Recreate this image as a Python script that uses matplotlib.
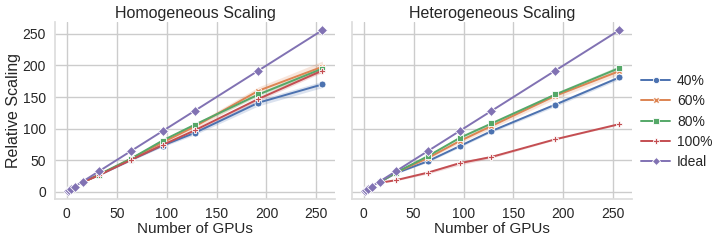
import matplotlib
matplotlib.use("Agg")
import matplotlib.pyplot as plt
import numpy as np
import seaborn as sns

sns.set_theme(style="whitegrid")
plt.rcParams['font.family'] = ['Liberation Sans', 'DejaVu Sans']

ideal_x = [1, 2, 4, 8, 16, 32, 64, 96, 128, 192, 256]
ideal_y = [1, 2, 4, 8, 16, 32, 64, 96, 128, 192, 256]

gpus = [16, 32, 64, 96, 128, 192, 256]
labels = ["40%", "60%", "80%", "100%"]

homo_mean = {
    "40%": [15, 26, 50, 73, 93, 141, 170],
    "60%": [15, 26, 52, 78, 103, 160, 198],
    "80%": [15, 27, 52, 81, 106, 154, 195],
    "100%": [15, 26, 50, 74, 97, 147, 192],
}
homo_err = {
    "40%": [0.5, 1, 1.5, 2, 3, 5, 5],
    "60%": [0.5, 1, 2, 3, 4, 6, 9],
    "80%": [0.5, 1, 1.5, 2, 2, 3, 4],
    "100%": [0.5, 1, 1, 2, 2, 3, 3],
}
hetero_mean = {
    "40%": [15, 29, 48, 72, 96, 138, 181],
    "60%": [15, 30, 53, 80, 104, 152, 191],
    "80%": [15, 30, 56, 85, 108, 154, 196],
    "100%": [14, 18, 30, 45, 55, 83, 107],
}
hetero_err = {
    "40%": [0.5, 1, 1.5, 2, 2, 3, 3],
    "60%": [0.5, 1, 2, 3, 4, 5, 5],
    "80%": [0.5, 1, 2, 3, 3, 3, 4],
    "100%": [0.5, 1, 2, 3, 2, 1, 1],
}

colors = ["#4C72B0", "#DD8452", "#55A868", "#C44E52", "#8172B3"]
markers = ["o", "X", "s", "P", "D"]

fig, axes = plt.subplots(1, 2, figsize=(7.24, 2.43), dpi=100, sharey=True)
fig.subplots_adjust(left=0.076, right=0.873, bottom=0.181, top=0.909, wspace=0.06)

for ax, means, errs, title in [(axes[0], homo_mean, homo_err, "Homogeneous Scaling"),
                               (axes[1], hetero_mean, hetero_err, "Heterogeneous Scaling")]:
    for i, lab in enumerate(labels):
        m = np.array(means[lab], dtype=float)
        e = np.array(errs[lab], dtype=float)
        ax.fill_between(gpus, m - e, m + e, color=colors[i], alpha=0.2, lw=0)
        ax.plot(gpus, m, color=colors[i], marker=markers[i], markersize=5,
                markeredgecolor="white", markeredgewidth=0.6, lw=1.4, label=lab)
    ax.plot(ideal_x, ideal_y, color=colors[4], marker=markers[4], markersize=5,
            markeredgecolor="white", markeredgewidth=0.6, lw=1.4, label="Ideal")
    ax.set_title(title, fontsize=11.5, pad=3)
    ax.set_xlabel("Number of GPUs", fontsize=11, labelpad=1)
    ax.set_xticks([0, 50, 100, 150, 200, 250])
    ax.set_yticks([0, 50, 100, 150, 200, 250])
    ax.tick_params(axis="x", labelsize=10, pad=5.5, length=0)
    ax.tick_params(axis="y", labelsize=10, pad=6.5, length=0)
    for s in ["top", "right"]:
        ax.spines[s].set_visible(False)
    for s in ["left", "bottom"]:
        ax.spines[s].set_color("#dddddd")

axes[0].set_ylabel("Relative Scaling", fontsize=11.5, labelpad=1)
handles, labs = axes[1].get_legend_handles_labels()
fig.legend(handles, labs, loc="center left", bbox_to_anchor=(0.868, 0.5),
           frameon=False, fontsize=10, handlelength=2.1, handletextpad=0.5,
           labelspacing=0.45, markerscale=0.9)

fig.savefig("out.png", dpi=100)
